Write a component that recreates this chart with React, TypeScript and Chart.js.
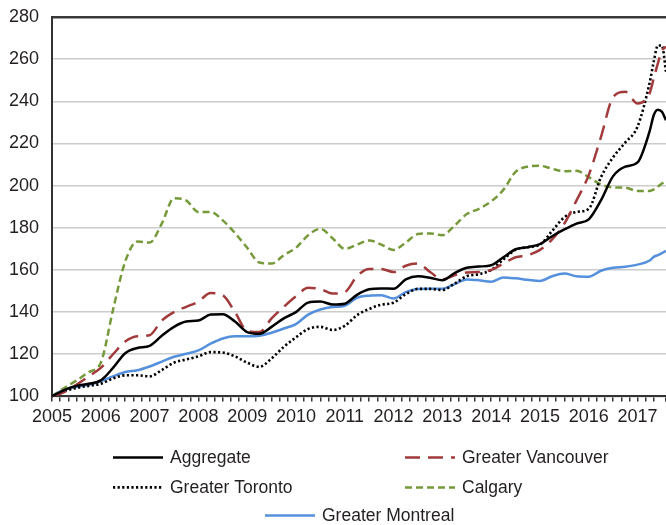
import React, { useEffect, useRef } from 'react';
import { Chart, registerables } from 'chart.js';

Chart.register(...registerables);

// Periods (quarterly, then monthly at the end)
const periods = [
  '2005-01', '2005-04', '2005-07', '2005-10',
  '2006-01', '2006-04', '2006-07', '2006-10',
  '2007-01', '2007-04', '2007-07', '2007-10',
  '2008-01', '2008-04', '2008-07', '2008-10',
  '2009-01', '2009-04', '2009-07', '2009-10',
  '2010-01', '2010-04', '2010-07', '2010-10',
  '2011-01', '2011-04', '2011-07', '2011-10',
  '2012-01', '2012-04', '2012-07', '2012-10',
  '2013-01', '2013-04', '2013-07', '2013-10',
  '2014-01', '2014-04', '2014-07', '2014-10',
  '2015-01', '2015-04', '2015-07', '2015-10',
  '2016-01', '2016-04', '2016-07', '2016-10',
  '2017-01', '2017-04', '2017-05', '2017-06', '2017-07', '2017-08',
];

const aggregate = [
  100, 103, 105, 106,
  107.6, 113.5, 120.5, 123,
  124, 128.8, 133, 135.5,
  136, 138.8, 139, 135.5,
  130.5, 129.7, 133, 137,
  140, 144.5, 145, 143.6,
  144, 148.2, 150.8, 151.2,
  151.1, 155.5, 157, 156.3,
  155.1, 158.5, 161, 161.6,
  162.2, 166, 169.8, 170.8,
  172.2, 176, 179.2, 182,
  184, 193, 204.5, 209,
  211, 226, 233.5, 236, 235, 231,
];

const vancouver = [
  100, 102, 105.5, 109.5,
  113.5, 120, 126, 128.5,
  129, 136, 140, 142.5,
  145, 149, 148, 140,
  131, 130.5, 137, 142.5,
  147.5, 151.5, 151, 148.8,
  149.5, 157, 160.5, 160.5,
  159, 162, 163, 159,
  155.5, 157.5, 158.8, 159,
  160, 163, 166, 167,
  169.5, 174.5, 182, 193,
  205, 223, 242, 244.5,
  239, 244, 251, 258, 264, 266,
];

const toronto = [
  100, 102.5, 104, 105,
  106, 108.5, 110, 110,
  109.5, 112.5, 116, 117.5,
  119, 121, 120.8, 119,
  116, 114, 118, 123.5,
  128, 132, 133, 131.5,
  133.5, 138.5, 141.5, 143.5,
  144.5, 148.5, 151, 151,
  150.5, 153.5, 157, 158,
  160, 165, 169.5, 170.8,
  172, 178.5, 185, 187.5,
  189, 204, 213.5, 220.5,
  228, 249, 259, 266.5, 266.5, 254,
];

const calgary = [
  100, 104, 107.5, 111.5,
  116, 141, 164, 173.5,
  173, 182, 194, 193,
  187.5, 187.5, 183.5, 177.5,
  170.5, 163.5, 163, 167,
  170.5, 176.5, 179.5, 175,
  170, 172, 174, 172,
  169.5, 173, 177, 177.3,
  176.5, 181, 186.5, 189,
  192.5, 198, 206.5, 209,
  209.4, 208, 206.8, 207,
  204, 200.5, 199.2, 199,
  197.5, 197.5, 198.2, 199.5, 201, 202,
];

const montreal = [
  100, 103.3, 104.5, 105.5,
  107.2, 109.5, 111.6, 112.4,
  114.2, 116.5, 118.8, 120.2,
  121.8, 125, 127.5, 128.5,
  128.5, 128.8, 130.2, 132.2,
  134.3, 138.8, 141.2, 142.4,
  143, 146.8, 147.8, 148,
  146.4, 149.5, 151, 151.1,
  151.1, 153.3, 155.5, 155.1,
  154.4, 156.4, 156, 155.3,
  154.7, 157, 158.3, 157,
  156.8, 159.6, 161, 161.5,
  162.5, 164.5, 166.2, 167, 168, 169,
];

const yTicks = [100, 120, 140, 160, 180, 200, 220, 240, 260, 280];
const firstYear = 2005;
const lastPeriod = '2017-08';

const FONT = "'Liberation Sans', Arial, sans-serif";
const TEXT = '#231f20';

const toMonth = (p: string) => {
  const [y, m] = p.split('-').map(Number);
  return (y - firstYear) * 12 + (m - 1);
};

const series = [
  { label: 'Aggregate', data: aggregate, color: '#000000', dash: [] as number[], width: 2.5 },
  { label: 'Greater Vancouver', data: vancouver, color: '#a23a3b', dash: [15, 8], width: 2.5 },
  { label: 'Greater Toronto', data: toronto, color: '#000000', dash: [2.2, 2.4], width: 2.6 },
  { label: 'Calgary', data: calgary, color: '#76993a', dash: [7, 4], width: 2.5 },
  { label: 'Greater Montreal', data: montreal, color: '#5490dc', dash: [] as number[], width: 2.5 },
];

// legend slots relative to chart-area center / bottom
const legendSlots = [
  { dx: -246, dy: 61 },
  { dx: 46, dy: 61 },
  { dx: -246, dy: 91 },
  { dx: 46, dy: 91 },
  { dx: -94, dy: 119 },
];

const legendPlugin = {
  id: 'customLegend',
  afterDraw(chart: any) {
    const { ctx, chartArea } = chart;
    const cx = (chartArea.left + chartArea.right) / 2;
    ctx.save();
    ctx.font = `17.5px ${FONT}`;
    ctx.textBaseline = 'middle';
    ctx.fillStyle = TEXT;
    chart.data.datasets.forEach((ds: any, i: number) => {
      const slot = legendSlots[i];
      const x0 = cx + slot.dx;
      const y0 = chartArea.bottom + slot.dy;
      ctx.beginPath();
      ctx.strokeStyle = ds.borderColor;
      ctx.lineWidth = ds.borderWidth;
      ctx.setLineDash(ds.borderDash || []);
      ctx.lineCap = 'butt';
      ctx.moveTo(x0, y0);
      ctx.lineTo(x0 + 50, y0);
      ctx.stroke();
      ctx.setLineDash([]);
      ctx.fillText(ds.label, x0 + 57, y0 + 1);
    });
    ctx.restore();
  },
};

export default function App() {
  const ref = useRef<HTMLCanvasElement>(null);
  useEffect(() => {
    document.body.style.margin = '0';
    const xs = periods.map(toMonth);
    const chart = new Chart(ref.current!, {
      type: 'line',
      data: {
        datasets: series.map((s) => ({
          label: s.label,
          data: s.data.map((v, i) => ({ x: xs[i], y: v })),
          borderColor: s.color,
          backgroundColor: s.color,
          borderDash: s.dash,
          borderWidth: s.width,
          pointRadius: 0,
          cubicInterpolationMode: 'monotone' as const,
          fill: false,
        })),
      },
      options: {
        animation: false,
        responsive: false,
        layout: { autoPadding: false, padding: { top: 17, right: 0, left: 0, bottom: 92 } },
        plugins: { legend: { display: false }, tooltip: { enabled: false } },
        scales: {
          x: {
            type: 'linear',
            min: 0,
            max: toMonth(lastPeriod),
            afterFit: (axis: any) => {
              axis.paddingLeft = 0;
              axis.paddingRight = 0;
            },
            ticks: {
              stepSize: 2,
              autoSkip: false,
              maxRotation: 0,
              padding: 5,
              color: TEXT,
              font: { family: FONT, size: 18 },
              callback: (v: any) => (Number(v) % 12 === 0 ? String(firstYear + Number(v) / 12) : ''),
            },
            grid: { display: true, drawOnChartArea: false, drawTicks: true, tickLength: 5, color: '#333333', lineWidth: 1.5 },
            border: { display: true, color: '#333333', width: 2 },
          },
          y: {
            min: yTicks[0],
            max: yTicks[yTicks.length - 1],
            afterBuildTicks: (axis: any) => {
              axis.ticks = yTicks.map((v) => ({ value: v }));
            },
            afterFit: (axis: any) => {
              axis.width = 52;
              axis.paddingTop = 0;
              axis.paddingBottom = 0;
            },
            ticks: {
              padding: 13,
              color: TEXT,
              font: { family: FONT, size: 18 },
            },
            grid: {
              drawTicks: false,
              color: (c: any) => (c.tick && c.tick.value === 280 ? '#3a3a3a' : '#cccccc'),
              lineWidth: (c: any) => (c.tick && c.tick.value === 280 ? 2.5 : 1.5),
            },
            border: { display: true, color: '#333333', width: 2 },
          },
        },
      },
      plugins: [legendPlugin],
    });
    return () => chart.destroy();
  }, []);
  return <canvas ref={ref} width={666} height={525} style={{ display: 'block' }} />;
}
